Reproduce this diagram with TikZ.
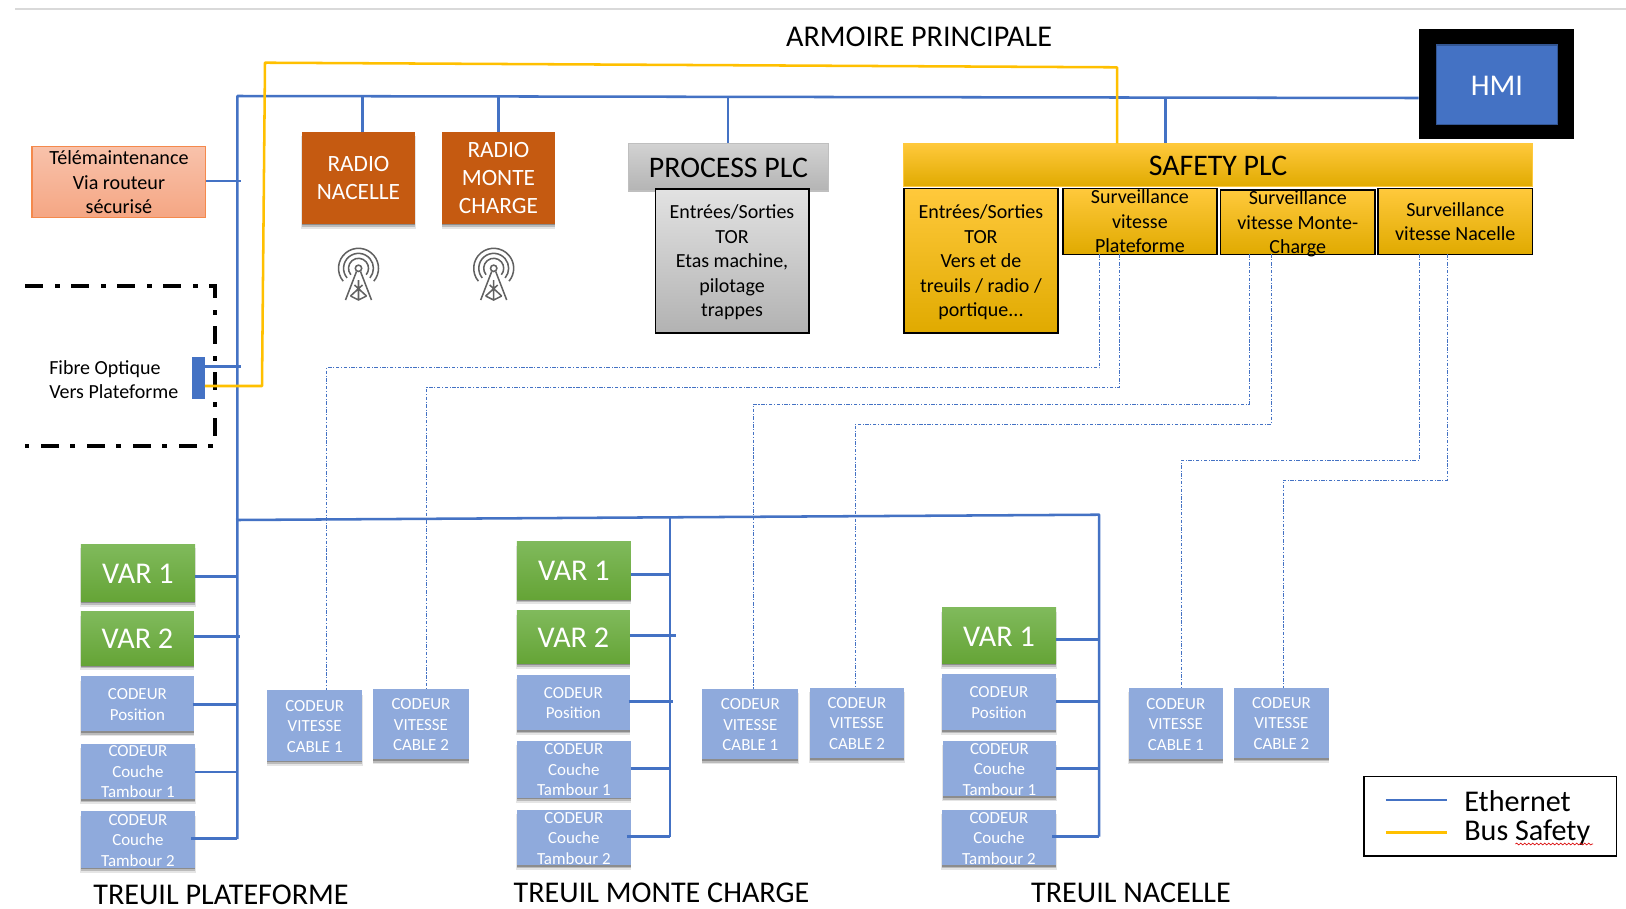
\documentclass[tikz,border=0pt]{standalone}
\usepackage{fontspec}
\setmainfont{Carlito}
\usetikzlibrary{fit,shadows,decorations.pathmorphing}
\definecolor{eth}{HTML}{4472C4}
\definecolor{bus}{HTML}{FFC000}
\definecolor{cod}{HTML}{8FAADC}
\definecolor{sunA}{HTML}{FFC93C}
\definecolor{sunC}{HTML}{E0AA00}
\definecolor{sunB}{HTML}{FFC000}
\definecolor{grnA}{HTML}{80BA5C}
\definecolor{grnB}{HTML}{65A436}
\definecolor{rust}{HTML}{C55A11}
\definecolor{gryA}{HTML}{E2E2E2}
\definecolor{gryB}{HTML}{B2B2B2}
\definecolor{gryC}{HTML}{BFBFBF}
\definecolor{gryD}{HTML}{D2D2D2}
\definecolor{gryE}{HTML}{B4B4B4}
\definecolor{oraA}{HTML}{F4894C}
\definecolor{oraB}{HTML}{F8C2AB}
\definecolor{oraC}{HTML}{F5A683}
\newcommand\bx[7]{\node[#2,fit={(#3,#4)(#5,#6)}] (#1) {\smash{\raisebox{-.35em}{\begin{tabular}{@{}c@{}}#7\end{tabular}}}};}
\newcommand\stub[4][0pt]{\coordinate (tmpj) at (#3,#4); \draw[ethline] ([xshift=#1]#2.east |- tmpj) -- (tmpj);}
\newcommand\antarc[2]{\draw[antline] (#1,268.3) ++(220:#2pt) arc[start angle=220,end angle=-40,radius=#2pt];}
\newcommand\antenna[1]{%
 \antarc{#1}{7.5}\antarc{#1}{11.2}\antarc{#1}{15}%
 \begin{scope}[shift={(#1,0)}]
 \draw[antline] (0,268.3) circle[radius=2.4pt];
 \draw[antline] (-2,271.5) -- (-13,300) (2,271.5) -- (13,300) (0,280) -- (0,300)
   (-4,285) -- (8,296) (4,285) -- (-8,296) (-8,296) -- (0,300) -- (8,296);
 \end{scope}}
\tikzset{
 ethline/.style={draw=eth,line width=1.9pt},
 busline/.style={draw=bus,line width=1.9pt,line join=round},
 dotline/.style={draw=eth,line width=.55pt,dash pattern=on 2.6pt off 1.2pt on .8pt off 1.2pt},
 antline/.style={draw=black!62,line width=1.15pt},
 base/.style={inner sep=0pt,outer sep=0pt,line width=1pt},
 shad/.style={drop shadow={shadow xshift=0pt,shadow yshift=-3.4pt,shadow scale=1.01,fill=black,opacity=.1},
   drop shadow={shadow xshift=0pt,shadow yshift=-2.4pt,fill=black,opacity=.18},
   drop shadow={shadow xshift=0pt,shadow yshift=-1.3pt,fill=black,opacity=.25}},
 var/.style={base,shad,top color=grnA,bottom color=grnB,text=white,font=\fontsize{22.6}{26}\selectfont},
 codeur/.style={base,shad,fill=cod,text=white,font=\fontsize{12.7}{15.4}\selectfont},
 radio/.style={base,shad,fill=rust,text=white,font=\fontsize{17.5}{21}\selectfont},
 safehead/.style={base,draw=sunA,top color=sunA,middle color=sunB,bottom color=sunC,font=\fontsize{22.4}{26}\selectfont},
 safebox/.style={base,draw=black,top color=sunA,middle color=sunB,bottom color=sunC,line width=1.2pt,font=\fontsize{15}{18.4}\selectfont},
 graybody/.style={base,draw=black,top color=gryA,bottom color=gryB,line width=1.2pt,font=\fontsize{15}{18.4}\selectfont},
 grayhead/.style={base,draw=gryC,top color=gryD,bottom color=gryE,font=\fontsize{22.4}{26}\selectfont},
 teleb/.style={base,draw=oraA,top color=oraB,bottom color=oraC,font=\fontsize{15.1}{18.4}\selectfont},
 bigtxt/.style={inner sep=0pt,font=\fontsize{22.6}{26}\selectfont},
}
\begin{document}
\begin{tikzpicture}[x=.75pt,y=-.75pt]
\useasboundingbox (0,0) rectangle (1626,908);
\fill[white] (0,0) rectangle (1626,908);
\draw[black!15,line width=1.5pt] (15,8.7) -- (1626,8.7);
\node[bigtxt] (title) at (919,36.5) {ARMOIRE PRINCIPALE};
% HMI
\node[base,fill=black,fit={(1418.5,29.3)(1573.5,139.3)}] (hmiframe) {};
\bx{hmi}{base,draw=eth!75!black,fill=eth,text=white,font=\fontsize{22.6}{26}\selectfont}{1436.6}{45}{1557.4}{124.7}{HMI}
% Top row
\bx{tele}{teleb}{32}{146.3}{205.8}{217.7}{Télémaintenance\\Via routeur\\sécurisé}
\bx{rn}{radio}{301.7}{132}{415.2}{223.7}{RADIO\\NACELLE}
\bx{rm}{radio}{442.2}{132}{554.7}{223.7}{RADIO\\MONTE\\CHARGE}
\antenna{358.5}
\antenna{493.7}
\bx{phead}{grayhead}{628.3}{143.3}{828.6}{191}{PROCESS PLC}
\bx{pbody}{graybody}{655.3}{188.7}{808.7}{332.7}{Entrées/Sorties\\TOR\\Etas machine,\\pilotage\\trappes}
\bx{shead}{safehead}{903.7}{143.3}{1532.5}{186.7}{SAFETY PLC}
\bx{sbody}{safebox}{903.7}{188.3}{1058.2}{332.7}{Entrées/Sorties\\TOR\\Vers et de\\treuils / radio /\\portique...}
\bx{sv1}{safebox}{1062.9}{188.3}{1216.8}{254.3}{Surveillance\\vitesse\\Plateforme}
\bx{sv2}{safebox}{1220.5}{190}{1375}{254.3}{Surveillance\\vitesse Monte-\\Charge}
\bx{sv3}{safebox}{1378}{188.3}{1532.5}{254.3}{Surveillance\\vitesse Nacelle}
% Fibre
\node[base,fill=eth,fit={(192.3,357.3)(204.8,399)}] (fibre) {};
\node[anchor=west,inner sep=0pt,align=left,font=\fontsize{15}{18.4}\selectfont] (fibretxt) at (49,379.5) {Fibre Optique\\Vers Plateforme};
\draw[black,line width=2.7pt,dash pattern=on 13.5pt off 9pt on 3.75pt off 8.25pt] (25,286) -- (215,286) -- (215,446) -- (25,446);
% Treuil plateforme
\bx{av1}{var}{80.9}{544}{195}{601.7}{VAR 1}
\bx{av2}{var}{80.9}{611.7}{193.9}{665}{VAR 2}
\bx{ap}{codeur}{80.9}{676.3}{193.9}{731.3}{CODEUR\\Position}
\bx{at1}{codeur}{80.9}{743.7}{195}{799}{CODEUR\\Couche\\Tambour 1}
\bx{at2}{codeur}{80.9}{811.3}{195}{867.7}{CODEUR\\Couche\\Tambour 2}
\bx{ac1}{codeur}{267}{690.3}{362.4}{760.7}{CODEUR\\VITESSE\\CABLE 1}
\bx{ac2}{codeur}{373.3}{689}{468.6}{759.3}{CODEUR\\VITESSE\\CABLE 2}
\node[bigtxt] (tp) at (221,895) {TREUIL PLATEFORME};
% Treuil monte charge
\bx{bv1}{var}{516.8}{541.3}{630.9}{599}{VAR 1}
\bx{bv2}{var}{516.8}{610.3}{629.9}{663.7}{VAR 2}
\bx{bp}{codeur}{516.8}{675}{629.9}{730}{CODEUR\\Position}
\bx{bt1}{codeur}{516.8}{741}{630.9}{797.7}{CODEUR\\Couche\\Tambour 1}
\bx{bt2}{codeur}{516.8}{810}{630.9}{865}{CODEUR\\Couche\\Tambour 2}
\bx{bc1}{codeur}{702.4}{689}{798.3}{759.3}{CODEUR\\VITESSE\\CABLE 1}
\bx{bc2}{codeur}{809.7}{687.7}{904.2}{758}{CODEUR\\VITESSE\\CABLE 2}
\node[bigtxt] (tm) at (661.5,892.7) {TREUIL MONTE CHARGE};
% Treuil nacelle
\bx{cv1}{var}{942}{607.3}{1056}{663.7}{VAR 1}
\bx{cp}{codeur}{942}{673.7}{1056}{730}{CODEUR\\Position}
\bx{ct1}{codeur}{943}{741}{1056}{796.3}{CODEUR\\Couche\\Tambour 1}
\bx{ct2}{codeur}{942}{810}{1056}{865}{CODEUR\\Couche\\Tambour 2}
\bx{cc1}{codeur}{1128.7}{687.7}{1223}{759.3}{CODEUR\\VITESSE\\CABLE 1}
\bx{cc2}{codeur}{1234}{687.7}{1328.8}{758}{CODEUR\\VITESSE\\CABLE 2}
\node[bigtxt] (tn) at (1131,892.7) {TREUIL NACELLE};
% Ethernet buses
\draw[ethline,line join=round] (hmiframe.west |- 0,98) -- (237.4,96) -- (237.4,839);
\draw[ethline] (362.4,96.3) -- (362.4,0 |- rn.north);
\draw[ethline] (498.7,96.5) -- (498.7,0 |- rm.north);
\draw[ethline] (727.8,96.8) -- (727.8,0 |- phead.north);
\draw[ethline] (1165.5,97.5) -- (1165.5,0 |- shead.north);
\draw[ethline,line join=round] (236,520) -- (670,517.3) -- (1099,514.7) -- (1099,836.7);
\draw[ethline] (670,517.3) -- (670,836.7);
\stub{tele}{241}{181}
\stub{fibre}{241}{366.7}
\stub{av1}{237.4}{576.3}
\stub{av2}{239.5}{636.7}
\stub[-1pt]{ap}{237.4}{704.3}
\stub{at1}{237.4}{772}
\stub[-3pt]{at2}{237.4}{838.3}
\stub{bv1}{670}{574.7}
\stub{bv2}{675.5}{635.3}
\stub[-1pt]{bp}{673}{701.7}
\stub{bt1}{670}{768.7}
\stub[-3pt]{bt2}{670}{836.7}
\stub{cv1}{1099}{639.7}
\stub{cp}{1099}{701.7}
\stub{ct1}{1099}{768.7}
\stub[-3pt]{ct2}{1099}{836.7}
% Safety bus
\draw[busline] (fibre.east |- 0,386) -- (262,386) -- (265,62.7) -- (1117,67.3) -- (1117,0 |- shead.north);
% Speed links
\draw[dotline] (1099.7,0 |- sv1.south) -- (1099.7,367.7) -- (326.6,367.7) -- (326.6,0 |- ac1.north);
\draw[dotline] (1119.4,0 |- sv1.south) -- (1119.4,387.3) -- (426.6,387.3) -- (426.6,0 |- ac2.north);
\draw[dotline] (1249,0 |- sv2.south) -- (1249,404) -- (753.8,404) -- (753.8,0 |- bc1.north);
\draw[dotline] (1271.3,0 |- sv2.south) -- (1271.3,424) -- (855,424) -- (855,0 |- bc2.north);
\draw[dotline] (1419,0 |- sv3.south) -- (1419,460) -- (1181.6,460) -- (1181.6,0 |- cc1.north);
\draw[dotline] (1447,0 |- sv3.south) -- (1447,480) -- (1283.2,480) -- (1283.2,0 |- cc2.north);
% Legend
\node[base,draw=black,line width=1.2pt,fit={(1364,776.3)(1616.5,856)}] (legend) {};
\coordinate (la) at (1385.8,800);
\coordinate (lb) at (1446.5,800);
\coordinate (lc) at (1385.8,832.3);
\coordinate (ld) at (1446.5,832.3);
\draw[ethline] (la) -- (lb);
\draw[busline] (lc) -- (ld);
\node[bigtxt,anchor=west] (leth) at (1464,801) {Ethernet};
\node[bigtxt,anchor=west] (lbus) at (1464,833) {Bus Safety};
\draw[red!85!black,line width=.45pt,decorate,decoration={snake,amplitude=.7pt,segment length=3pt}] (1515.4,844) -- (1593,844);
\end{tikzpicture}
\end{document}
